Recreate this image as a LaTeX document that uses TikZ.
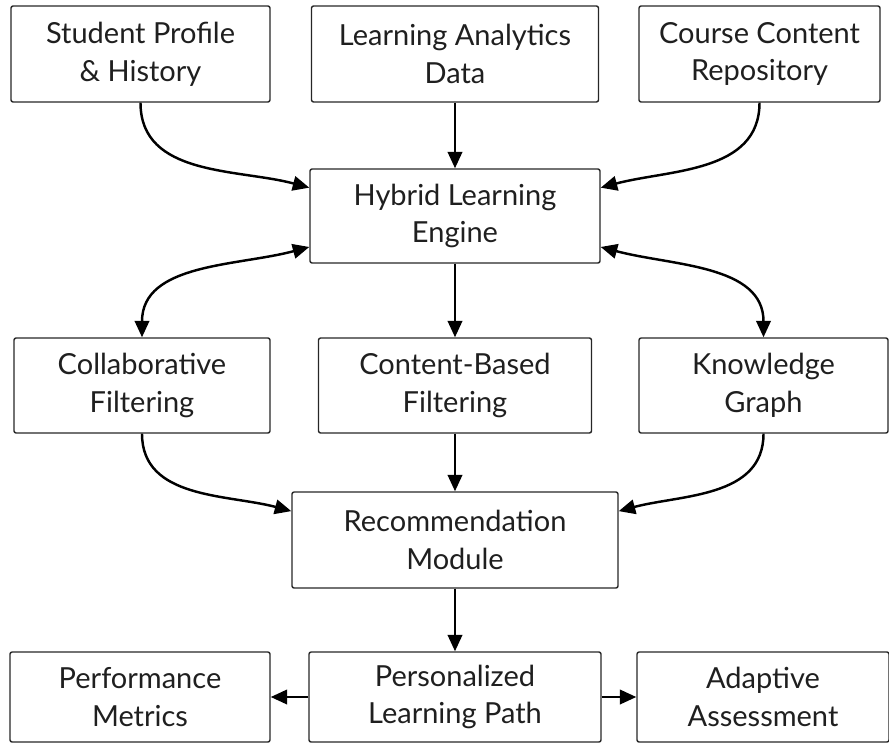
\documentclass[tikz,border=0pt]{standalone}
\usepackage{fontspec}
\setmainfont{Lato}
\usetikzlibrary{arrows.meta}
\usetikzlibrary{positioning}

\tikzset{
  box/.style={draw=black!85,line width=0.8pt,rounded corners=1.2pt,align=center,
    text=black!88,inner sep=0pt,font=\fontsize{16.5}{21.5}\selectfont},
}

\begin{document}
\begin{tikzpicture}

  \useasboundingbox (0,0) rectangle (17.78,-14.86);

  % inputs
  \node [box,minimum width=5.18cm,minimum height=1.92cm] (SP) at (2.81,-1.08) {Student Profile\\\& History};
  \node [box,minimum width=5.74cm,minimum height=1.92cm] (LA) at (9.10,-1.08) {Learning Analytics\\Data};
  \node [box,minimum width=4.82cm,minimum height=1.92cm] (CC) at (15.19,-1.08) {Course Content\\Repository};

  \node [box,minimum width=5.80cm,minimum height=1.88cm] (HLE) at (9.10,-4.32) {Hybrid Learning\\Engine};

  % filtering layer
  \node [box,minimum width=5.12cm,minimum height=1.90cm] (CF) at (2.84,-7.71) {Collaborative\\Filtering};
  \node [box,minimum width=5.46cm,minimum height=1.90cm] (CBF) at (9.10,-7.71) {Content-Based\\Filtering};
  \node [box,minimum width=4.98cm,minimum height=1.90cm] (KG) at (15.27,-7.71) {Knowledge\\Graph};

  \node [box,minimum width=6.52cm,minimum height=1.92cm] (RM) at (9.10,-10.80) {Recommendation\\Module};

  % outputs
  \node [box,minimum width=5.20cm,minimum height=1.80cm] (PM) at (2.80,-13.94) {Performance\\Metrics};
  \node [box,minimum width=5.84cm,minimum height=1.80cm] (PLP) at (9.10,-13.94) {Personalized\\Learning Path};
  \node [box,minimum width=5.04cm,minimum height=1.80cm] (AA) at (15.26,-13.94) {Adaptive\\Assessment};

  \path [line width=1.4pt,>={Triangle[length=3.3mm,width=2.9mm]},every edge/.append style={->}]
    (SP.south) edge [out=-90,in=165] (HLE.169)
    (LA.south) edge (HLE.north)
    (CC.south) edge [out=-90,in=15] (HLE.11)
    (HLE.south) edge (CBF.north)
    (CF.south) edge [out=-90,in=165] (RM.170)
    (CBF.south) edge (RM.north)
    (KG.south) edge [out=-90,in=15] (RM.10)
    (RM.south) edge (PLP.north)
    (PLP.west) edge (PM.east)
    (PLP.east) edge (AA.west);

  \path [line width=1.4pt,>={Triangle[length=3.3mm,width=2.9mm]},every edge/.append style={<->}]
    (CF.north) edge [out=90,in=195] (HLE.192)
    (KG.north) edge [out=90,in=-15] (HLE.348);

\end{tikzpicture}
\end{document}
